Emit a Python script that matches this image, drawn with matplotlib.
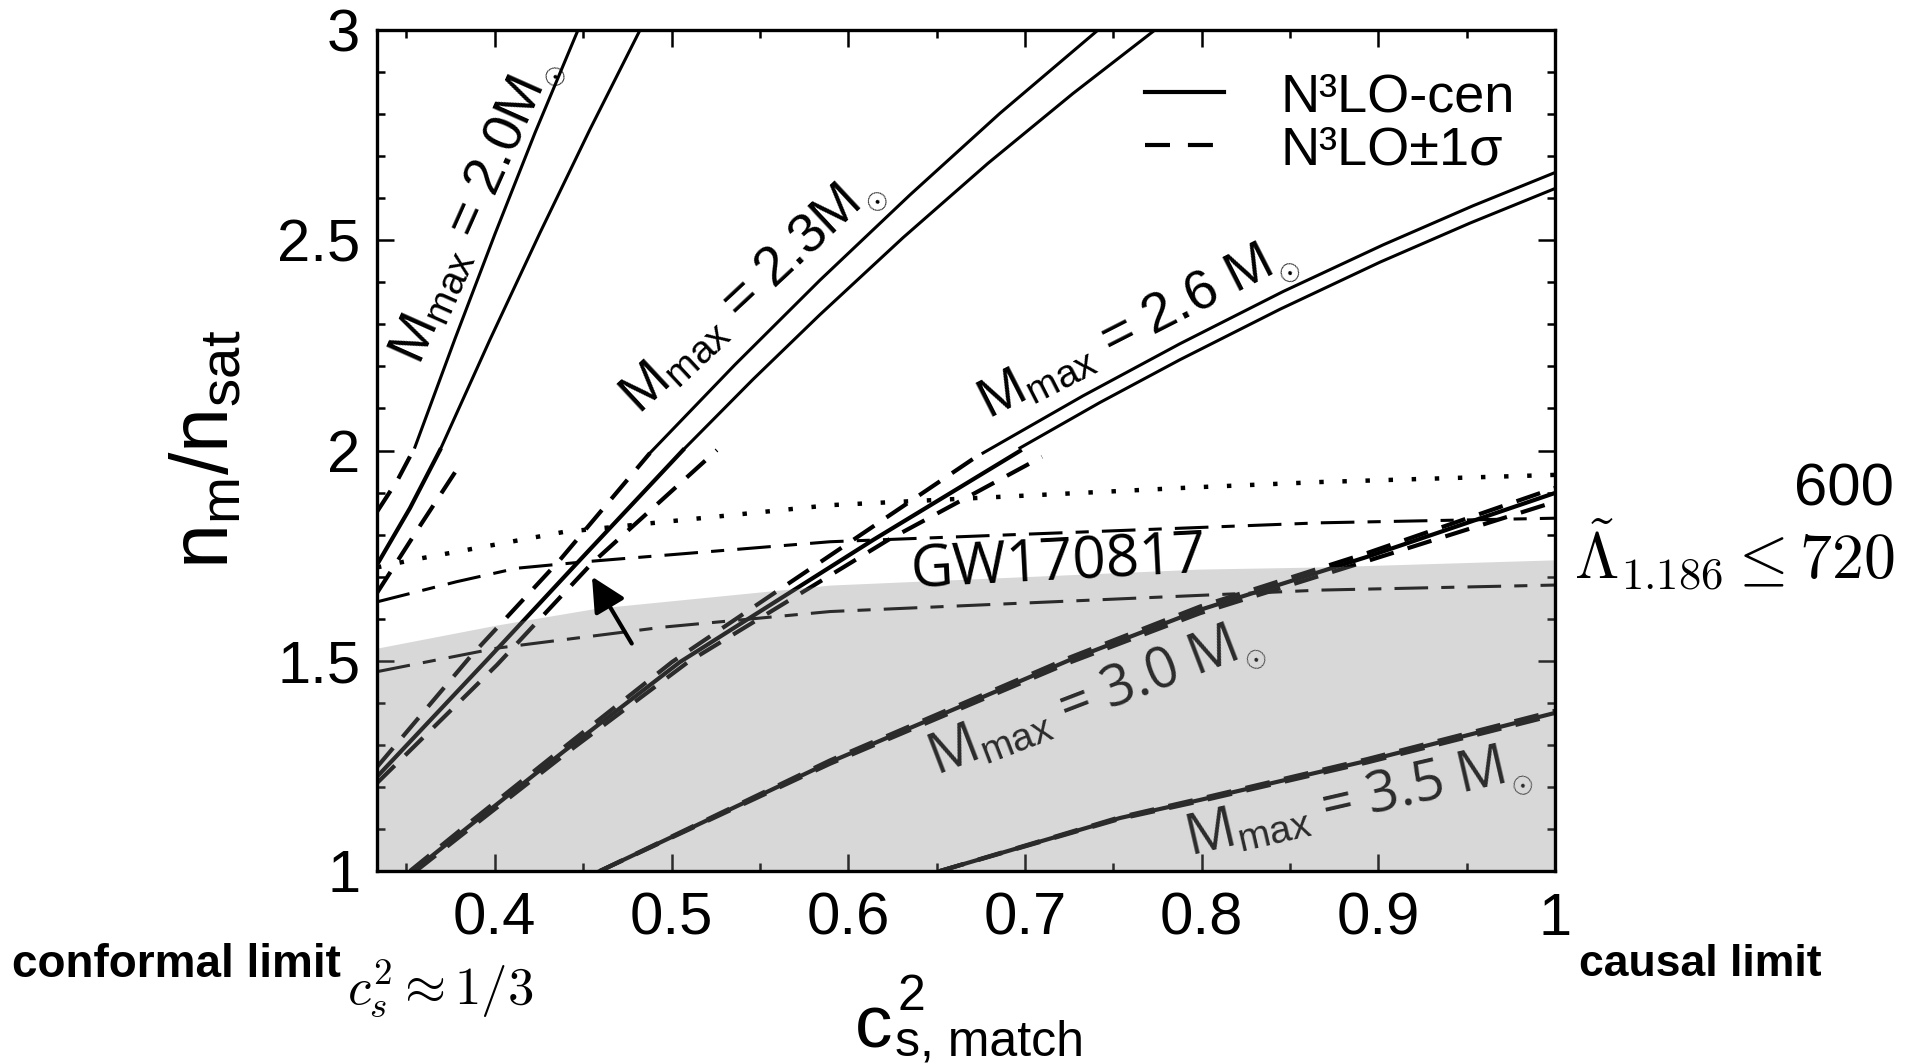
import matplotlib
matplotlib.use("Agg")
import matplotlib.pyplot as plt
from matplotlib import font_manager
from matplotlib.lines import Line2D
from matplotlib.ticker import MultipleLocator, FuncFormatter

plt.rcParams['font.family'] = ['Liberation Sans', 'DejaVu Sans']
plt.rcParams['mathtext.fontset'] = 'custom'
plt.rcParams['mathtext.rm'] = 'Liberation Sans'
plt.rcParams['mathtext.it'] = 'Liberation Sans:italic'
plt.rcParams['mathtext.bf'] = 'Liberation Sans:bold'

installed = {f.name for f in font_manager.fontManager.ttflist}
narrow = 'Liberation Sans Narrow' if 'Liberation Sans Narrow' in installed else 'Liberation Sans'

# ---------------- values ----------------
# M_max = 2.0 Msun
m20_thin_a_x = [0.3548, 0.3775, 0.4001, 0.4228, 0.4471]
m20_thin_a_y = [2.008, 2.266, 2.515, 2.756, 3.000]
m20_thin_b_x = [0.3690, 0.3973, 0.4256, 0.4539, 0.4822]
m20_thin_b_y = [2.001, 2.264, 2.518, 2.764, 3.000]
m20_dash_a_x = [0.3333, 0.345, 0.3548]
m20_dash_a_y = [1.854, 1.930, 2.008]
m20_cen_x = [0.3333, 0.352, 0.3690]
m20_cen_y = [1.728, 1.863, 2.001]
m20_dash_b_x = [0.3333, 0.358, 0.382]
m20_dash_b_y = [1.661, 1.823, 1.977]

# M_max = 2.3 Msun
m23_thin_a_x = [0.4878, 0.5359, 0.5840, 0.6350, 0.6859, 0.7414]
m23_thin_a_y = [1.994, 2.204, 2.405, 2.608, 2.802, 3.000]
m23_thin_b_x = [0.5065, 0.5461, 0.5840, 0.6310, 0.6791, 0.7272, 0.7736]
m23_thin_b_y = [2.001, 2.169, 2.323, 2.506, 2.683, 2.849, 3.000]
m23_dash_a_x = [0.3333, 0.3860, 0.4369, 0.4878]
m23_dash_a_y = [1.247, 1.509, 1.740, 1.994]
m23_cen_x = [0.3333, 0.3956, 0.4465, 0.5065]
m23_cen_y = [1.224, 1.502, 1.732, 2.001]
m23_dash_b_x = [0.3333, 0.4012, 0.4550, 0.5257]
m23_dash_b_y = [1.209, 1.490, 1.732, 2.001]

# M_max = 2.6 Msun
m26_thin_a_x = [0.6763, 0.7329, 0.7878, 0.8461, 0.9027, 0.9536, 1.0]
m26_thin_a_y = [1.994, 2.130, 2.254, 2.378, 2.489, 2.582, 2.661]
m26_thin_b_x = [0.6972, 0.7424, 0.7878, 0.8444, 0.9010, 0.9520, 1.0]
m26_thin_b_y = [2.006, 2.114, 2.216, 2.336, 2.448, 2.541, 2.623]
m26_cen_x = [0.3537, 0.3877, 0.4386, 0.5048, 0.6140, 0.6972]
m26_cen_y = [1.0, 1.114, 1.283, 1.497, 1.787, 1.999]
m26_dash_a_x = [0.3520, 0.3854, 0.4358, 0.5003, 0.6027, 0.6763]
m26_dash_a_y = [1.0, 1.114, 1.283, 1.497, 1.787, 1.996]
m26_dash_b_x = [0.3554, 0.3899, 0.4414, 0.5094, 0.6225, 0.7097]
m26_dash_b_y = [1.0, 1.114, 1.283, 1.497, 1.787, 1.985]

# M_max = 3.0 Msun
m30_x = [0.4595, 0.5897, 0.7255, 0.7991, 0.8936, 1.0]
m30_cen_y = [1.0, 1.259, 1.502, 1.621, 1.747, 1.899]
m30_dash_a_y = [1.0, 1.263, 1.508, 1.629, 1.756, 1.911]
m30_dash_b_y = [1.0, 1.255, 1.496, 1.613, 1.737, 1.878]

# M_max = 3.5 Msun
m35_x = [0.6520, 0.7538, 0.7991, 0.8936, 1.0]
m35_cen_y = [1.0, 1.126, 1.169, 1.262, 1.376]
m35_dash_a_y = [1.0, 1.128, 1.172, 1.266, 1.381]
m35_dash_b_y = [1.0, 1.124, 1.166, 1.258, 1.371]

# tidal deformability contours
lam_dot_x = [0.3333, 0.3537, 0.4386, 0.5897, 0.7991, 0.8670, 1.0]
lam_dot_y = [1.722, 1.740, 1.806, 1.870, 1.913, 1.925, 1.942]
lam_mid_x = [0.3333, 0.3784, 0.4124, 0.4527, 0.5897, 0.8670, 1.0]
lam_mid_y = [1.640, 1.688, 1.720, 1.736, 1.783, 1.828, 1.839]
lam_low_x = [0.3333, 0.4012, 0.4954, 0.5897, 0.8670, 1.0]
lam_low_y = [1.474, 1.530, 1.580, 1.617, 1.668, 1.680]

# GW170817 allowed band (upper edge)
band_x = [0.3333, 0.4012, 0.4578, 0.5897, 0.7991, 0.8670, 1.0]
band_y = [1.530, 1.585, 1.625, 1.680, 1.718, 1.723, 1.740]

arrow_tail = (0.4775, 1.541)
arrow_head = (0.455, 1.700)

x_ticks = [0.4, 0.5, 0.6, 0.7, 0.8, 0.9, 1.0]
y_ticks = [1.0, 1.5, 2.0, 2.5, 3.0]

# ---------------- figure ----------------
fig = plt.figure(figsize=(19.16, 10.63), dpi=100)
ax = fig.add_axes([377 / 1916, 1 - 871 / 1063, 1178 / 1916, 841 / 1063])

thin_lw = 2.2
cen_lw = 3.0
dash = (0, (6, 3.5))

groups = [
    (m20_thin_a_x, m20_thin_a_y, m20_thin_b_x, m20_thin_b_y,
     m20_dash_a_x, m20_dash_a_y, m20_cen_x, m20_cen_y, m20_dash_b_x, m20_dash_b_y),
    (m23_thin_a_x, m23_thin_a_y, m23_thin_b_x, m23_thin_b_y,
     m23_dash_a_x, m23_dash_a_y, m23_cen_x, m23_cen_y, m23_dash_b_x, m23_dash_b_y),
    (m26_thin_a_x, m26_thin_a_y, m26_thin_b_x, m26_thin_b_y,
     m26_dash_a_x, m26_dash_a_y, m26_cen_x, m26_cen_y, m26_dash_b_x, m26_dash_b_y),
]
for tax, tay, tbx, tby, dax, day, cx, cy, dbx, dby in groups:
    ax.plot(tax, tay, color='k', lw=thin_lw)
    ax.plot(tbx, tby, color='k', lw=thin_lw)
    ax.plot(dax, day, color='k', lw=cen_lw, ls=dash)
    ax.plot(cx, cy, color='k', lw=cen_lw)
    ax.plot(dbx, dby, color='k', lw=cen_lw, ls=dash)

for xs, cy, day, dby in [(m30_x, m30_cen_y, m30_dash_a_y, m30_dash_b_y),
                         (m35_x, m35_cen_y, m35_dash_a_y, m35_dash_b_y)]:
    ax.plot(xs, cy, color='k', lw=cen_lw)
    ax.plot(xs, day, color='k', lw=cen_lw, ls=dash)
    ax.plot(xs, dby, color='k', lw=cen_lw, ls=dash)

ax.plot(lam_dot_x, lam_dot_y, color='k', lw=3.2, ls=(0, (1, 4.2)))
ax.plot(lam_mid_x, lam_mid_y, color='k', lw=2.2, ls=(0, (11, 4.3, 4.3, 4.3)))
ax.plot(lam_low_x, lam_low_y, color='k', lw=2.2, ls=(0, (11, 4.3, 4.3, 4.3)))

# translucent band drawn over the curves
ax.fill_between(band_x, 1.0, band_y, color=(135 / 255, 135 / 255, 135 / 255),
                alpha=0.32, lw=0, zorder=2.3)

ax.annotate('', xy=arrow_head, xytext=arrow_tail,
            arrowprops=dict(arrowstyle='-|>,head_length=0.6,head_width=0.3',
                            color='k', lw=3, shrinkA=0, shrinkB=0,
                            mutation_scale=35), zorder=4)

# curve labels
sun = r'$_{_{\odot}}$'
ax.text(0.3900, 2.570, r'M$_{\rm max}$ = 2.0M' + sun, rotation=66, fontsize=40,
        ha='center', va='center', rotation_mode='anchor')
ax.text(0.5460, 2.370, r'M$_{\rm max}$ = 2.3M' + sun, rotation=43, fontsize=40,
        ha='center', va='center', rotation_mode='anchor')
ax.text(0.7640, 2.285, r'M$_{\rm max}$ = 2.6 M' + sun, rotation=27, fontsize=40,
        ha='center', va='center', rotation_mode='anchor')
ax.text(0.7400, 1.405, r'M$_{\rm max}$ = 3.0 M' + sun, rotation=21, fontsize=40,
        family='Open Sans', ha='center', va='center', rotation_mode='anchor', zorder=2.1)
ax.text(0.8886, 1.158, r'M$_{\rm max}$ = 3.5 M' + sun, rotation=13, fontsize=40,
        family='Open Sans', ha='center', va='center', rotation_mode='anchor', zorder=2.1)
ax.text(0.7187, 1.728, 'GW170817', rotation=3, fontsize=42, family='Open Sans',
        ha='center', va='center', rotation_mode='anchor', zorder=3)

# axes styling
ax.set_xlim(1 / 3, 1)
ax.set_ylim(1, 3)
ax.set_xticks(x_ticks)
ax.set_yticks(y_ticks)
ax.xaxis.set_minor_locator(MultipleLocator(0.05))
ax.yaxis.set_minor_locator(MultipleLocator(0.1))
fmt = FuncFormatter(lambda v, p: f'{v:g}')
ax.xaxis.set_major_formatter(fmt)
ax.yaxis.set_major_formatter(fmt)
ax.tick_params(which='both', direction='in', top=True, right=True, width=1.8, labelsize=43)
ax.tick_params(which='major', length=12)
ax.tick_params(which='minor', length=5.8)
ax.tick_params(axis='x', pad=15)
ax.tick_params(axis='y', pad=12)
for sp in ax.spines.values():
    sp.set_linewidth(2.4)

handles = [Line2D([], [], color='k', lw=3),
           Line2D([], [], color='k', lw=3, ls=(0, (6, 4.3)))]
ax.legend(handles, ['N\u00b3LO-cen', 'N\u00b3LO\u00b11\u03c3'], loc='upper right',
          bbox_to_anchor=(0.966, 0.950), frameon=False, fontsize=39,
          handlelength=1.45, handletextpad=1.05, borderpad=0, borderaxespad=0,
          labelspacing=0.06)

# axis titles and notes outside the axes
fig.text(855 / 1916, 1 - 1047 / 1063, 'c', fontsize=54, ha='left', va='baseline')
fig.text(897 / 1916, 1 - 1010 / 1063, '2', fontsize=36, ha='left', va='baseline')
fig.text(895 / 1916, 1 - 1055 / 1063, 's, match', fontsize=36, ha='left', va='baseline')
fig.text(208 / 1916, 1 - 449 / 1063, r'$\mathrm{n}_\mathrm{m}/\mathrm{n}_\mathrm{sat}$',
         fontsize=58, rotation=90, ha='center', va='center')
fig.text(176 / 1916, 1 - 977 / 1063, 'conformal limit', fontsize=33,
         fontweight='bold', ha='center', va='baseline')
fig.text(1700 / 1916, 1 - 976 / 1063, 'causal limit', fontsize=32,
         fontweight='bold', ha='center', va='baseline')
fig.text(440 / 1916, 1 - 1005 / 1063, r'$c_s^2 \approx 1/3$', fontsize=38,
         math_fontfamily='cm', ha='center', va='baseline')
fig.text(1894 / 1916, 1 - 506 / 1063, '600', fontsize=43, family=narrow,
         ha='right', va='baseline')
fig.text(1894 / 1916, 1 - 580 / 1063, r'$\tilde{\Lambda}_{1.186} \leq 720$',
         fontsize=46, math_fontfamily='cm', ha='right', va='baseline')

fig.savefig('out.png', dpi=100, facecolor='white')
